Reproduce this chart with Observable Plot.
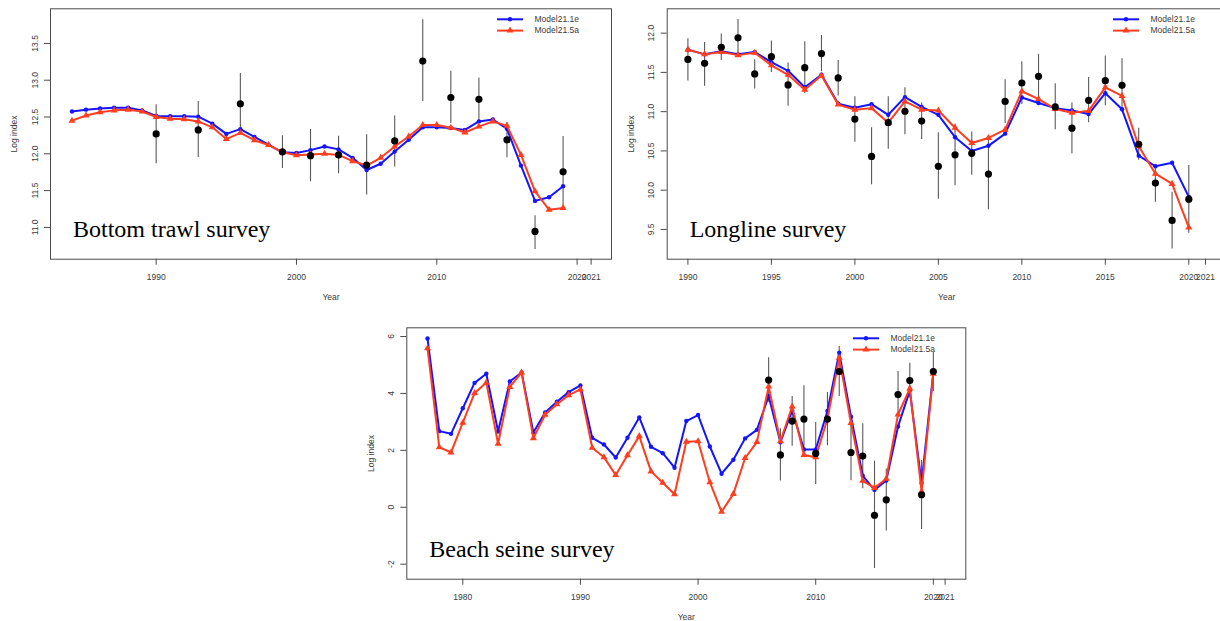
<!DOCTYPE html>
<html><head><meta charset="utf-8">
<script src="https://cdn.jsdelivr.net/npm/d3@7"></script>
<script src="https://cdn.jsdelivr.net/npm/@observablehq/plot@0.6"></script>
<style>
html,body{margin:0;padding:0;background:#fff;}
#wrap{position:relative;width:1220px;height:621px;overflow:hidden;background:#fff;}
.panel{position:absolute;}
</style></head><body><div id="wrap"></div>
<script>
// ---------- Legend / series names ----------
const seriesNames = ["Model21.1e", "Model21.5a"];

// ---------- Bottom trawl survey ----------
const btYears = [1984,1985,1986,1987,1988,1989,1990,1991,1992,1993,1994,1995,1996,1997,1998,1999,2000,2001,2002,2003,2004,2005,2006,2007,2008,2009,2010,2011,2012,2013,2014,2015,2016,2017,2018,2019];
const btModelA = [12.575,12.60,12.615,12.625,12.625,12.59,12.515,12.51,12.51,12.505,12.41,12.27,12.335,12.23,12.125,12.02,12.01,12.05,12.10,12.06,11.945,11.78,11.865,12.03,12.19,12.36,12.36,12.35,12.325,12.44,12.465,12.34,11.84,11.36,11.41,11.56];
const btModelB = [12.45,12.52,12.565,12.59,12.60,12.575,12.50,12.475,12.47,12.44,12.36,12.20,12.285,12.185,12.12,12.02,11.98,11.99,12.0,11.985,11.90,11.84,11.945,12.10,12.235,12.39,12.39,12.355,12.29,12.37,12.44,12.38,11.985,11.49,11.24,11.265];
const btObsYears = [1990,1993,1996,1999,2001,2003,2005,2007,2009,2011,2013,2015,2017,2019];
const btObs = [12.27,12.325,12.68,12.027,11.975,11.985,11.845,12.175,13.26,12.765,12.74,12.19,10.945,11.755];
const btLo  = [11.865,11.95,12.285,11.80,11.62,11.73,11.44,11.82,12.71,12.41,12.44,11.945,10.70,11.30];
const btHi  = [12.665,12.71,13.09,12.245,12.33,12.24,12.26,12.515,13.82,13.12,13.03,12.425,11.16,12.235];
const btXTicks = [1990,2000,2010,2020,2021];
const btYTicks = [11.0,11.5,12.0,12.5,13.0,13.5];
const btYTickLabels = ["11.0","11.5","12.0","12.5","13.0","13.5"];

// ---------- Longline survey ----------
const llYears = [1990,1991,1992,1993,1994,1995,1996,1997,1998,1999,2000,2001,2002,2003,2004,2005,2006,2007,2008,2009,2010,2011,2012,2013,2014,2015,2016,2017,2018,2019,2020];
const llModelA = [11.79,11.73,11.77,11.73,11.76,11.63,11.52,11.31,11.47,11.10,11.05,11.095,10.96,11.185,11.06,10.96,10.675,10.50,10.565,10.72,11.18,11.11,11.045,11.015,10.97,11.235,11.03,10.44,10.305,10.35,9.915];
const llModelB = [11.79,11.73,11.76,11.72,11.75,11.59,11.47,11.28,11.46,11.09,11.025,11.045,10.86,11.13,11.025,11.015,10.795,10.60,10.665,10.77,11.26,11.16,11.035,10.985,11.01,11.31,11.20,10.56,10.21,10.08,9.525];
const llObsYears = llYears;
const llObs = [11.665,11.615,11.82,11.94,11.48,11.70,11.34,11.56,11.74,11.43,10.905,10.43,10.86,11.005,10.88,10.305,10.45,10.47,10.205,11.13,11.365,11.45,11.06,10.79,11.145,11.395,11.335,10.585,10.09,9.615,9.885];
const llLo  = [11.39,11.325,11.65,11.725,11.29,11.50,11.07,11.23,11.51,11.20,10.61,10.07,10.52,10.705,10.645,9.885,10.055,10.19,9.75,10.85,11.09,11.16,10.77,10.465,10.86,11.075,10.99,10.38,9.845,9.25,9.45];
const llHi  = [11.93,11.88,11.99,12.175,11.66,11.90,11.62,11.89,11.97,11.65,11.19,10.795,11.19,11.305,11.11,10.73,10.84,10.74,10.66,11.405,11.635,11.73,11.355,11.11,11.435,11.71,11.675,10.79,10.305,9.975,10.315];
const llXTicks = [1990,1995,2000,2005,2010,2015,2020,2021];
const llYTicks = [9.5,10.0,10.5,11.0,11.5,12.0];
const llYTickLabels = ["9.5","10.0","10.5","11.0","11.5","12.0"];

// ---------- Beach seine survey ----------
const bsYears = [1977,1978,1979,1980,1981,1982,1983,1984,1985,1986,1987,1988,1989,1990,1991,1992,1993,1994,1995,1996,1997,1998,1999,2000,2001,2002,2003,2004,2005,2006,2007,2008,2009,2010,2011,2012,2013,2014,2015,2016,2017,2018,2019,2020];
const bsModelA = [5.93,2.675,2.58,3.48,4.37,4.69,2.66,4.42,4.735,2.63,3.33,3.705,4.045,4.28,2.44,2.205,1.75,2.44,3.155,2.125,1.90,1.39,3.03,3.24,2.135,1.18,1.67,2.42,2.72,3.9,2.28,3.40,2.03,2.03,3.38,5.43,3.18,1.105,0.61,0.94,2.84,4.10,0.85,4.75];
const bsModelB = [5.59,2.11,1.925,2.97,4.01,4.38,2.23,4.23,4.735,2.43,3.25,3.62,3.94,4.14,2.09,1.76,1.13,1.83,2.50,1.26,0.86,0.46,2.30,2.32,0.88,-0.16,0.47,1.73,2.29,4.24,2.32,3.54,1.84,1.76,3.11,5.25,2.96,0.93,0.68,1.0,3.26,4.17,0.555,4.69];
const bsObsYears = [2006,2007,2008,2009,2010,2011,2012,2013,2014,2015,2016,2017,2018,2019,2020];
const bsObs = [4.47,1.84,3.03,3.10,1.89,3.10,4.77,1.925,1.80,-0.28,0.26,3.96,4.45,0.44,4.77];
const bsLo  = [3.69,0.92,2.14,1.93,0.80,2.16,3.89,0.93,0.65,-2.15,-0.83,3.15,3.85,-0.78,4.07];
const bsHi  = [5.25,2.76,3.89,4.27,2.98,4.03,5.65,2.92,2.93,1.62,1.34,4.77,5.06,1.64,5.45];
const bsXTicks = [1980,1990,2000,2010,2020,2021];
const bsYTicks = [-2,0,2,4,6];
const bsYTickLabels = ["-2","0","2","4","6"];

// ---------- Styling ----------
const BLUE = "#1414ff";
const RED = "#ff3d1f";
const SANS = "'Liberation Sans', Arial, sans-serif";
const SERIF = "'Liberation Serif', 'Times New Roman', serif";
const FS = 8.5;
const TXT = "#3a3a3a";

function makePanel(cfg) {
  const mA = cfg.years.map((y, i) => ({year: y, v: cfg.mA[i]}));
  const mB = cfg.years.map((y, i) => ({year: y, v: cfg.mB[i]}));
  const obs = cfg.obsYears.map((y, i) => ({year: y, v: cfg.obs[i], lo: cfg.lo[i], hi: cfg.hi[i]}));
  const m = cfg.margin;
  const plot = Plot.plot({
    width: cfg.width,
    height: cfg.height,
    marginLeft: m.l, marginRight: m.r, marginTop: m.t, marginBottom: m.b,
    style: {fontFamily: SANS, fontSize: FS + "px", background: "transparent", overflow: "visible", color: TXT},
    x: {domain: cfg.xDomain},
    y: {domain: cfg.yDomain},
    marks: [
      Plot.frame({stroke: "#4a4a4a", strokeWidth: 1}),
      Plot.axisX({ticks: cfg.xTicks, tickFormat: d => String(d), tickSize: 6, tickPadding: 9, label: null, stroke: "#4a4a4a", fill: TXT, fontSize: FS}),
      Plot.axisY({ticks: cfg.yTicks, tickFormat: () => "", tickSize: 6, label: null, stroke: "#4a4a4a"}),
      Plot.text(cfg.yTicks, {y: d => d, text: (d, i) => cfg.yTickLabels[i], frameAnchor: "left", dx: -15.5, rotate: -90, textAnchor: "middle", lineAnchor: "middle", fontSize: FS, fill: TXT}),
      Plot.text(["Log index"], {frameAnchor: "left", dx: -36, rotate: -90, textAnchor: "middle", lineAnchor: "middle", fontSize: FS, fill: TXT}),
      Plot.text(["Year"], {frameAnchor: "bottom", dy: 38, textAnchor: "middle", lineAnchor: "middle", fontSize: FS, fill: TXT}),
      Plot.text([cfg.title], {frameAnchor: "bottom-left", dx: 22.5, dy: -22, textAnchor: "start", lineAnchor: "bottom", fontFamily: SERIF, fontSize: 24, fill: "#000"}),
      Plot.ruleX(obs, {x: "year", y1: "lo", y2: "hi", stroke: "#222", strokeWidth: 1.1, strokeOpacity: 0.75}),
      Plot.line(mA, {x: "year", y: "v", stroke: BLUE, strokeWidth: 2}),
      Plot.dot(mA, {x: "year", y: "v", r: 2.2, fill: BLUE, stroke: "none"}),
      Plot.line(mB, {x: "year", y: "v", stroke: RED, strokeWidth: 2}),
      Plot.dot(mB, {x: "year", y: "v", r: 2.6, symbol: "triangle", fill: RED, stroke: "none"}),
      Plot.dot(obs, {x: "year", y: "v", r: 3.6, fill: "#000", stroke: "none"})
    ]
  });
  plot.setAttribute("class", "panel");
  plot.style.left = cfg.left + "px";
  plot.style.top = cfg.top + "px";

  // in-plot legend (top-right corner of the frame)
  const right = cfg.width - m.r;
  const svg = d3.select(plot);
  const g = svg.append("g").attr("font-family", SANS).attr("font-size", FS).attr("text-anchor", "start");
  const rows = [{name: seriesNames[0], color: BLUE, sym: "dot"}, {name: seriesNames[1], color: RED, sym: "tri"}];
  rows.forEach((r, i) => {
    const y = m.t + 11 + i * 11.3;
    const x1 = right - cfg.legOff, x2 = x1 + 26, xm = (x1 + x2) / 2;
    g.append("line").attr("x1", x1).attr("x2", x2).attr("y1", y).attr("y2", y).attr("stroke", r.color).attr("stroke-width", 2);
    if (r.sym === "dot") g.append("circle").attr("cx", xm).attr("cy", y).attr("r", 2.2).attr("fill", r.color);
    else g.append("path").attr("d", d3.symbol(d3.symbolTriangle, Math.PI * 2.6 * 2.6)()).attr("transform", `translate(${xm},${y})`).attr("fill", r.color);
    g.append("text").attr("x", right - cfg.legOff + 37.5).attr("y", y).attr("dy", "0.32em").attr("text-anchor", "start").attr("fill", TXT).text(r.name);
  });
  document.getElementById("wrap").appendChild(plot);
}

makePanel({
  title: "Bottom trawl survey", years: btYears, mA: btModelA, mB: btModelB,
  obsYears: btObsYears, obs: btObs, lo: btLo, hi: btHi,
  xDomain: [1982.47, 2022.45], yDomain: [10.568, 13.97],
  xTicks: btXTicks, yTicks: btYTicks, yTickLabels: btYTickLabels,
  left: 0, top: 0, width: 615, height: 305, margin: {l: 50, r: 4, t: 8.3, b: 46.3}, legOff: 114
});
makePanel({
  title: "Longline survey", years: llYears, mA: llModelA, mB: llModelB,
  obsYears: llObsYears, obs: llObs, lo: llLo, hi: llHi,
  xDomain: [1988.76, 2022.24], yDomain: [9.121, 12.31],
  xTicks: llXTicks, yTicks: llYTicks, yTickLabels: llYTickLabels,
  left: 615, top: 0, width: 615, height: 305, margin: {l: 51.7, r: 4.3, t: 8.3, b: 46.3}, legOff: 112.7
});
makePanel({
  title: "Beach seine survey", years: bsYears, mA: bsModelA, mB: bsModelB,
  obsYears: bsObsYears, obs: bsObs, lo: bsLo, hi: bsHi,
  xDomain: [1975.24, 2022.76], yDomain: [-2.528, 6.306],
  xTicks: bsXTicks, yTicks: bsYTicks, yTickLabels: bsYTickLabels,
  left: 360, top: 320, width: 610, height: 301, margin: {l: 46.3, r: 4.7, t: 7.3, b: 42.3}, legOff: 112.3
});
</script>
</body></html>
